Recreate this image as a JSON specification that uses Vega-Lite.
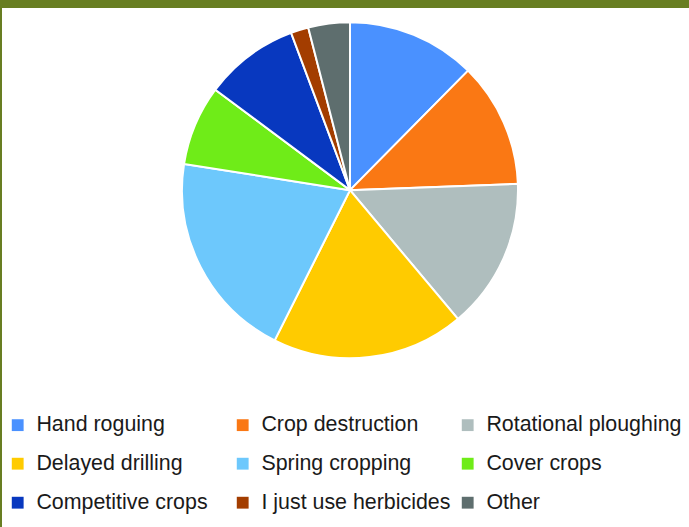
{
  "$schema": "https://vega.github.io/schema/vega-lite/v6.json",
  "width": 689,
  "height": 527,
  "autosize": {"type": "fit", "contains": "padding"},
  "padding": {"top": 8, "left": 2, "right": 0, "bottom": 0},
  "background": "#687e22",
  "view": {"fill": "white", "stroke": null},
  "config": {"view": {"fill": "white", "stroke": null}},
  "data": {"values": [
    {"method": "Hand roguing", "share": 12.4, "rank": 1},
    {"method": "Crop destruction", "share": 12.0, "rank": 2},
    {"method": "Rotational ploughing", "share": 14.5, "rank": 3},
    {"method": "Delayed drilling", "share": 18.5, "rank": 4},
    {"method": "Spring cropping", "share": 20.1, "rank": 5},
    {"method": "Cover crops", "share": 7.7, "rank": 6},
    {"method": "Competitive crops", "share": 9.1, "rank": 7},
    {"method": "I just use herbicides", "share": 1.7, "rank": 8},
    {"method": "Other", "share": 4.0, "rank": 9}
  ]},
  "mark": {"type": "arc", "radius": 168, "stroke": "white", "strokeWidth": 2, "x": {"expr": "width/2 + 4.5"}, "y": {"expr": "height*0.351"}},
  "encoding": {
    "theta": {"field": "share", "type": "quantitative", "stack": true},
    "order": {"field": "rank", "type": "quantitative"},
    "color": {
      "field": "method", "type": "nominal",
      "scale": {
        "domain": ["Hand roguing", "Crop destruction", "Rotational ploughing", "Delayed drilling", "Spring cropping", "Cover crops", "Competitive crops", "I just use herbicides", "Other"],
        "range": ["#4a91ff", "#fa7814", "#afbebe", "#ffcb00", "#6dc8fc", "#6fec18", "#0838bf", "#a33d00", "#5e6e6e"]
      },
      "legend": {
        "title": null,
        "orient": "none",
        "direction": "horizontal",
        "legendX": 5,
        "legendY": 406,
        "columns": 3,
        "gridAlign": "all",
        "columnPadding": -3,
        "rowPadding": 16,
        "symbolType": "square",
        "symbolSize": 140,
        "symbolStrokeWidth": 0,
        "labelOffset": 8,
        "labelFont": "Liberation Sans",
        "labelFontSize": 21.4,
        "labelColor": "#1a1a1a",
        "labelLimit": 300
      }
    }
  }
}
